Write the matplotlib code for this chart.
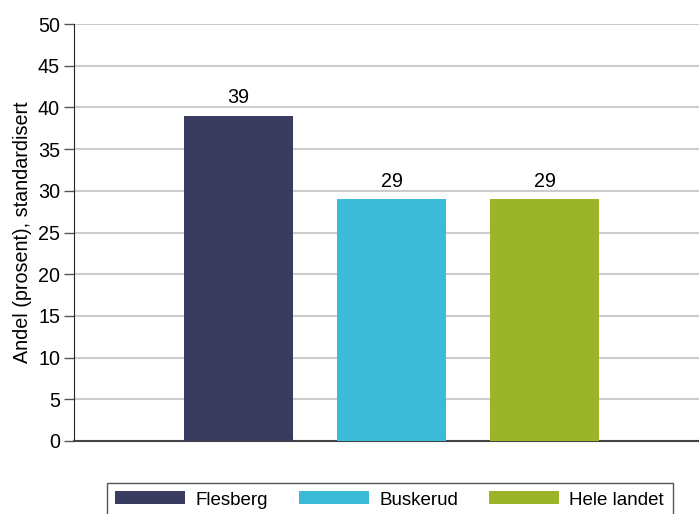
import numpy as np
import matplotlib.pyplot as plt

plt.rcParams['font.family'] = ['Liberation Sans', 'DejaVu Sans']

categories = ['Flesberg', 'Buskerud', 'Hele landet']
values = [39, 29, 29]
colors = ['#393b5f', '#3bbbd8', '#9bb42a']

fs = 14.2

fig = plt.figure(figsize=(6.99, 5.14), dpi=100)
ax = fig.add_axes([74 / 699, 73 / 514, 625 / 699, 417 / 514])

x = np.arange(len(categories))
bars = ax.bar(x, values, width=0.712, color=colors, label=categories, zorder=3)
ax.bar_label(bars, labels=[str(v) for v in values], padding=6, fontsize=fs)

ax.set_xlim(-1.075, 3.01)
ax.set_ylim(0, 50)
ax.set_yticks(range(0, 51, 5))
ax.set_xticks([])
ax.tick_params(axis='y', labelsize=fs, length=7, width=1, color='#555555', pad=3)
ax.yaxis.grid(True, color='#cccccc', linewidth=1.5, zorder=0)
ax.set_axisbelow(True)

for s in ['top', 'right']:
    ax.spines[s].set_visible(False)
ax.spines['left'].set_color('#222222')
ax.spines['bottom'].set_color('#444444')
ax.spines['bottom'].set_linewidth(1.5)

ax.set_ylabel('Andel (prosent), standardisert', fontsize=fs, labelpad=4)

leg = fig.legend(handles=bars.patches, labels=categories, loc='upper left',
                 bbox_to_anchor=(107 / 699, 1 - 483 / 514), ncol=3,
                 fontsize=13.5, handlelength=3.73, handleheight=0.69,
                 handletextpad=0.55, columnspacing=1.65, fancybox=False,
                 edgecolor='#555555', framealpha=1, borderpad=0.45,
                 borderaxespad=0)
leg.get_frame().set_linewidth(1.0)

fig.savefig('out.png', dpi=100)
